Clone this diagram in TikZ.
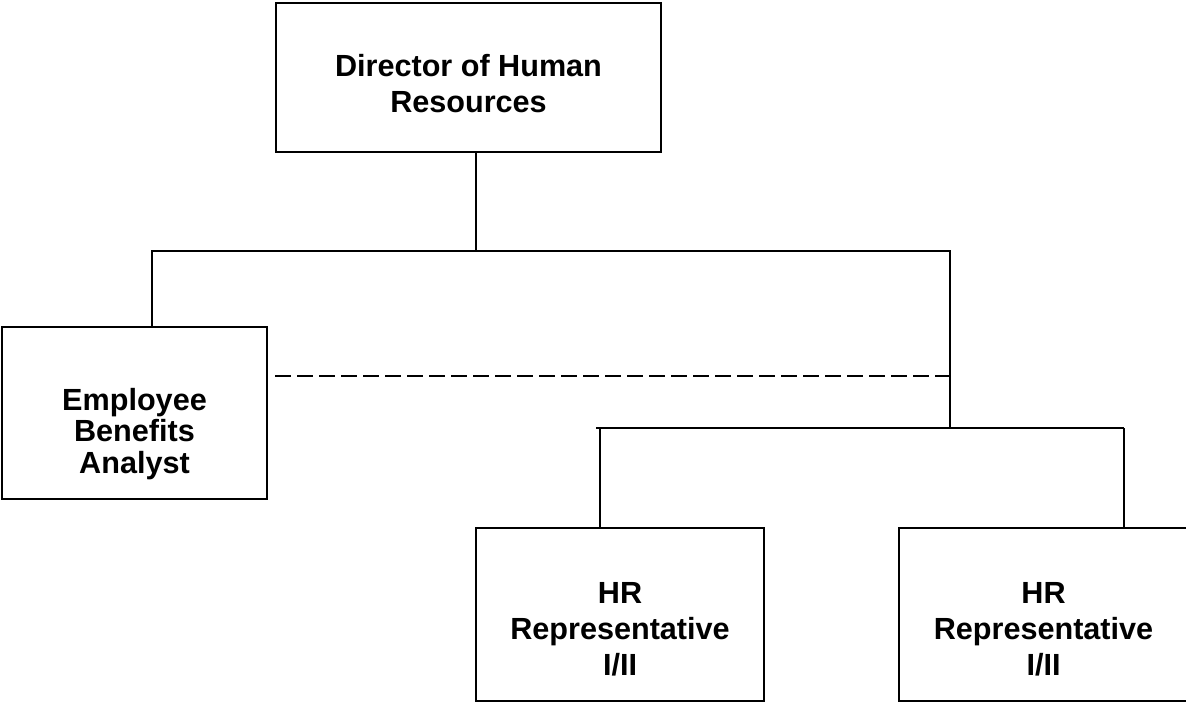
\documentclass[tikz,border=0pt]{standalone}
\usepackage{fontspec}
\setmainfont{Liberation Sans}
\begin{document}
\begin{tikzpicture}[x=0.5pt,y=-0.5pt,line width=1pt,
	box/.style={draw,rectangle,inner sep=0pt},
	caption/.style={align=center,inner sep=0pt,font=\fontsize{15.3}{18}\selectfont\bfseries},
	dashline/.style={dash pattern=on 8pt off 3pt}]
	\useasboundingbox (0,0) rectangle (1186,702);
	% boxes
	\node[box,minimum width=192.5pt,minimum height=74.5pt] (dir) at (468.5,77.5) {};
	\node[box,minimum width=132.5pt,minimum height=86pt] (emp) at (134.5,413) {};
	\node[box,minimum width=144pt,minimum height=86.5pt] (hrA) at (620,614.5) {};
	\node[box,minimum width=144pt,minimum height=86.5pt] (hrB) at (1043,614.5) {};
	\node[caption] (dirtext) at (468.5,83.7) {Director of Human\\Resources};
	\node[caption,font=\fontsize{15.3}{15.75}\selectfont\bfseries] (emptext) at (134.5,433.7) {Employee\\Benefits\\Analyst};
	\node[caption] (hrAtext) at (620,628.8) {HR\\Representative\\I/II};
	\node[caption] (hrBtext) at (1043.5,628.8) {HR\\Representative\\I/II};
	% lines
	\coordinate (hub) at (476,251);
	\coordinate (busL) at (152,251);
	\coordinate (busR) at (950,251);
	\coordinate (sub) at (950,428);
	\coordinate (subL) at (600,428);
	\coordinate (subR) at (1124,428);
	\coordinate (dashL) at (275,375.5);
	\draw (dir.south -| hub) -- (hub);
	\draw (emp.north -| busL) -- (busL) -- (busR) -- (sub);
	\draw ([xshift=-2pt]subL) -- (subR);
	\draw (subL) -- (hrA.north -| subL);
	\draw (subR) -- (hrB.north -| subR);
	\draw[dashline] (dashL) -- (dashL -| busR);
\end{tikzpicture}
\end{document}
